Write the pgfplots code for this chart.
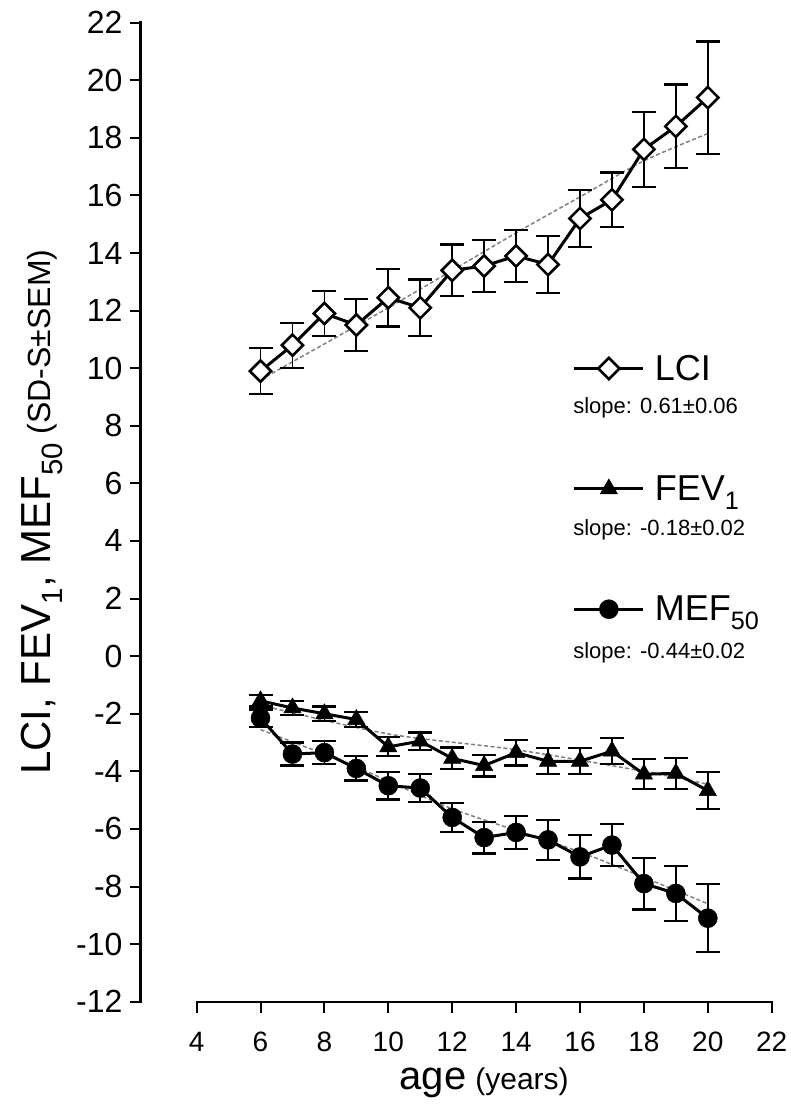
\documentclass[border=0pt]{standalone}
\usepackage{fontspec}
\setmainfont{Liberation Sans}
\usepackage{pgfplots}
\usepackage{pgfplotstable}
\pgfplotsset{compat=1.18}

\pgfplotstableread{
x y e
6 9.9 0.8
7 10.8 0.78
8 11.9 0.78
9 11.5 0.9
10 12.45 1.0
11 12.1 0.98
12 13.4 0.9
13 13.55 0.9
14 13.9 0.9
15 13.6 1.0
16 15.2 1.0
17 15.85 0.95
18 17.6 1.3
19 18.4 1.45
20 19.4 1.95
}\lci

\pgfplotstableread{
x y e
6 -1.55 0.2
7 -1.8 0.25
8 -2.0 0.25
9 -2.2 0.25
10 -3.15 0.33
11 -2.95 0.3
12 -3.55 0.38
13 -3.8 0.38
14 -3.35 0.45
15 -3.65 0.45
16 -3.65 0.45
17 -3.3 0.45
18 -4.1 0.52
19 -4.07 0.53
20 -4.67 0.65
}\fev

\pgfplotstableread{
x y e
6 -2.15 0.3
7 -3.4 0.4
8 -3.35 0.4
9 -3.9 0.42
10 -4.5 0.48
11 -4.58 0.48
12 -5.6 0.5
13 -6.3 0.55
14 -6.12 0.58
15 -6.38 0.7
16 -6.97 0.75
17 -6.56 0.72
18 -7.9 0.9
19 -8.24 0.95
20 -9.1 1.18
}\mef

\begin{document}
\begin{tikzpicture}
\begin{axis}[
  scale only axis, width=631pt, height=979pt,
  xmin=2.25, xmax=22, ymin=-12, ymax=22,
  axis x line*=bottom, axis y line*=left,
  axis line style={draw=none,-},
  xtick={4,6,...,22}, ytick={-12,-10,...,22},
  tick align=outside, major tick length=11pt,
  tick style={black, line width=2pt},
  /pgf/number format/assume math mode=true,
  xticklabel style={font=\fontsize{28}{30}\selectfont, inner sep=4pt, yshift=-15pt},
  yticklabel style={font=\fontsize{32}{34}\selectfont, inner sep=4pt, xshift=-3pt},
  xlabel={{\fontsize{40}{42}\selectfont age}\hspace{9pt}{\fontsize{30}{32}\selectfont (years)}},
  xlabel style={at={(axis description cs:0.5443,0)}, anchor=center, yshift=-81pt},
  ylabel={{\fontsize{42}{44}\selectfont LCI, FEV\textsubscript{1}, MEF\textsubscript{50}}\hspace{8pt}{\fontsize{32}{34}\selectfont (SD-S±SEM)}},
  ylabel style={at={(axis description cs:-0.1564,0.5)}, anchor=center},
  clip=false,
  legend style={at={(axis cs:15.77,10.46)}, anchor=north west, draw=none, fill=none,
    inner sep=0pt, row sep=94pt, column sep=10pt,
    font=\fontsize{36}{38}\selectfont, cells={anchor=west}, nodes={inner sep=0pt}},
  legend image code/.code={\draw[mark repeat=2,mark phase=2,#1] plot coordinates {(0pt,0pt) (34.5pt,0pt) (69pt,0pt)};},
  error bars/error bar style={line width=1.8pt, black},
  error bars/error mark options={rotate=90, mark size=12pt, line width=2.2pt, black},
]
\coordinate (LL) at (rel axis cs:0,0);
\coordinate (UR) at (rel axis cs:1,1);
\draw[line width=2.5pt, line cap=rect] (axis cs:2.25,-12) -- (axis cs:2.25,22);
\draw[line width=2pt, line cap=rect] (axis cs:4,-12) -- (axis cs:22,-12);

% trend lines
\addplot[forget plot, smooth, gray, line width=1.5pt, dash pattern=on 4pt off 2.5pt] coordinates {(6,9.6) (10,12.1) (14,14.7) (16,15.95) (18,17.2) (20,18.15)};
\addplot[forget plot, smooth, gray, line width=1.5pt, dash pattern=on 4pt off 2.5pt] coordinates {(6,-1.7) (10,-2.7) (14,-3.25) (18,-4.0) (20,-4.45)};
\addplot[forget plot, smooth, gray, line width=1.5pt, dash pattern=on 4pt off 2.5pt] coordinates {(6,-2.55) (9,-3.85) (12,-5.3) (16,-6.8) (20,-8.6)};

\addplot[black, line width=3pt, mark=square*, mark size=7.5pt,
  mark options={rotate=45, fill=white, draw=black, line width=2.6pt},
  error bars/.cd, y dir=both, y explicit]
  table[x=x, y=y, y error=e] {\lci};
\addlegendentry{LCI}

\addplot[black, line width=3pt, mark=triangle*, mark size=10pt,
  mark options={fill=black, draw=black, line width=0.5pt},
  error bars/.cd, y dir=both, y explicit]
  table[x=x, y=y, y error=e] {\fev};
\addlegendentry{FEV\textsubscript{1}}

\addplot[black, line width=3pt, mark=*, mark size=9.5pt,
  mark options={fill=black, draw=black, line width=0.5pt},
  error bars/.cd, y dir=both, y explicit]
  table[x=x, y=y, y error=e] {\mef};
\addlegendentry{MEF\textsubscript{50}}

\node[anchor=west, font=\fontsize{22}{24}\selectfont] at (axis cs:15.68,8.62) {slope: 0.61±0.06};
\node[anchor=west, font=\fontsize{22}{24}\selectfont] at (axis cs:15.68,4.4) {slope: -0.18±0.02};
\node[anchor=west, font=\fontsize{22}{24}\selectfont] at (axis cs:15.68,0.1) {slope: -0.44±0.02};
\end{axis}
\pgfresetboundingbox
\path ([shift={(-140.7pt,-108.3pt)}]LL) rectangle ([shift={(19pt,22.7pt)}]UR);
\end{tikzpicture}
\end{document}
